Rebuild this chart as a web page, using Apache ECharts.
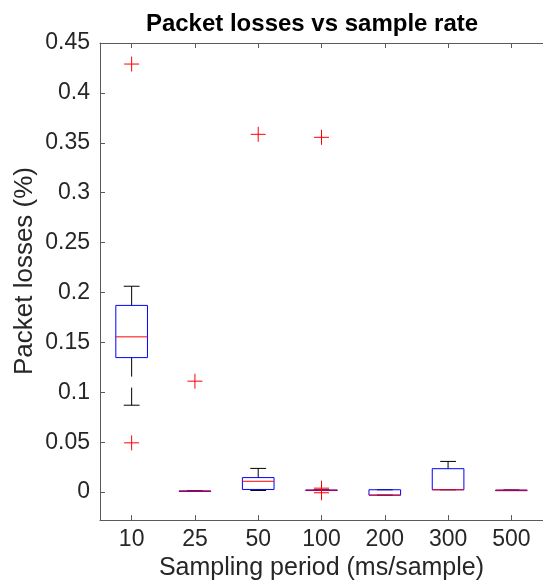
<!DOCTYPE html>
<html>
<head>
<meta charset="utf-8">
<script src="https://cdn.jsdelivr.net/npm/echarts@6/dist/echarts.min.js"></script>
<style>
html,body{margin:0;padding:0;background:#fff;}
#c{width:543px;height:586px;}
</style>
</head>
<body>
<div id="c"></div>
<script>
// ---- data ----
var categories = ['10', '25', '50', '100', '200', '300', '500'];
var whiskerLow  = [0.0871, 0.0010, 0.0017, 0.0020, -0.0030, 0.0024, 0.0020];
var q1          = [0.1348, 0.0010, 0.0027, 0.0020, -0.0030, 0.0024, 0.0020];
var medians     = [0.1556, 0.0010, 0.0109, 0.0020, -0.0030, 0.0024, 0.0020];
var q3          = [0.1871, 0.0012, 0.0146, 0.0021, 0.0024, 0.0235, 0.0020];
var whiskerHigh = [0.2063, 0.0012, 0.0238, 0.0021, 0.0024, 0.0308, 0.0020];
var outlierCat  = [0, 0, 1, 2, 3, 3, 3];
var outlierVal  = [0.4289, 0.0494, 0.1112, 0.3585, 0.3555, 0.0040, -0.0006];
var yTicks = [0, 0.05, 0.1, 0.15, 0.2, 0.25, 0.3, 0.35, 0.4, 0.45];
var yTickLabels = ['0', '0.05', '0.1', '0.15', '0.2', '0.25', '0.3', '0.35', '0.4', '0.45'];

var boxData = categories.map(function (c, i) {
  return [i, whiskerLow[i], q1[i], medians[i], q3[i], whiskerHigh[i]];
});
var outlierData = outlierVal.map(function (v, i) { return [outlierCat[i], v]; });

var axisColor = '#5a5a5a';
var textColor = '#262626';
var font = 'Liberation Sans, Arial, Helvetica, sans-serif';

function renderBox(params, api) {
  var x = api.value(0);
  var pWL = api.coord([x, api.value(1)]);
  var pQ1 = api.coord([x, api.value(2)]);
  var pMed = api.coord([x, api.value(3)]);
  var pQ3 = api.coord([x, api.value(4)]);
  var pWH = api.coord([x, api.value(5)]);
  var bw = api.size([1, 0])[0];
  var half = bw * 0.25;
  var cap = bw * 0.125;
  var cx = pMed[0];
  var children = [];
  var dash = [19, 11];
  children.push({type: 'line', shape: {x1: cx, y1: pQ3[1], x2: cx, y2: pWH[1]},
    style: {stroke: '#000', lineWidth: 1, lineDash: dash}});
  children.push({type: 'line', shape: {x1: cx, y1: pQ1[1], x2: cx, y2: pWL[1]},
    style: {stroke: '#000', lineWidth: 1, lineDash: dash}});
  children.push({type: 'line', shape: {x1: cx - cap, y1: pWH[1], x2: cx + cap, y2: pWH[1]},
    style: {stroke: '#000', lineWidth: 1}});
  children.push({type: 'line', shape: {x1: cx - cap, y1: pWL[1], x2: cx + cap, y2: pWL[1]},
    style: {stroke: '#000', lineWidth: 1}});
  children.push({type: 'rect', shape: {x: cx - half, y: pQ3[1], width: 2 * half, height: Math.max(pQ1[1] - pQ3[1], 0.5)},
    style: {stroke: '#0000ff', fill: null, lineWidth: 1}});
  children.push({type: 'line', shape: {x1: cx - half, y1: pMed[1], x2: cx + half, y2: pMed[1]},
    style: {stroke: '#ff0000', lineWidth: 1}});
  return {type: 'group', children: children};
}

function renderPlus(params, api) {
  var p = api.coord([api.value(0), api.value(1)]);
  var r = 7.5;
  return {type: 'group', children: [
    {type: 'line', shape: {x1: p[0] - r, y1: p[1], x2: p[0] + r, y2: p[1]},
      style: {stroke: '#ff0000', lineWidth: 1}},
    {type: 'line', shape: {x1: p[0], y1: p[1] - r, x2: p[0], y2: p[1] + r},
      style: {stroke: '#ff0000', lineWidth: 1}}
  ]};
}

var chart = echarts.init(document.getElementById('c'), null, {renderer: 'canvas'});
chart.setOption({
  animation: false,
  backgroundColor: '#ffffff',
  title: {
    text: 'Packet losses vs sample rate',
    left: 312, top: 12, padding: 0, textAlign: 'center',
    textStyle: {fontFamily: font, fontWeight: 'bold', fontSize: 24, color: '#000'}
  },
  grid: {left: 100, top: 43, width: 449, height: 482, containLabel: false},
  xAxis: [{
    type: 'category', data: categories, position: 'bottom',
    name: 'Sampling period (ms/sample)', nameLocation: 'middle', nameGap: 31,
    nameTextStyle: {fontFamily: font, fontSize: 25, color: textColor},
    axisLine: {show: true, onZero: false, lineStyle: {color: axisColor, width: 1}},
    axisTick: {show: true, inside: true, length: 5, alignWithLabel: true, lineStyle: {color: axisColor}},
    axisLabel: {fontFamily: font, fontSize: 23, color: textColor, margin: 8},
    splitLine: {show: false}
  }, {
    type: 'category', data: categories, position: 'top',
    axisLine: {show: true, onZero: false, lineStyle: {color: axisColor, width: 1}},
    axisTick: {show: true, inside: true, length: 5, alignWithLabel: true, lineStyle: {color: axisColor}},
    axisLabel: {show: false},
    splitLine: {show: false}
  }],
  yAxis: {
    type: 'value', min: -0.028, max: 0.45,
    axisLine: {show: true, onZero: false, lineStyle: {color: axisColor, width: 1}},
    axisTick: {show: true, inside: true, length: 5, customValues: yTicks, lineStyle: {color: axisColor}},
    axisLabel: {fontFamily: font, fontSize: 23, color: textColor, margin: 10, customValues: yTicks,
      formatter: function (v) {
        var i = yTicks.indexOf(v);
        return i >= 0 ? yTickLabels[i] : String(v);
      }},
    splitLine: {show: false}
  },
  graphic: [{
    type: 'text', x: 25, y: 271, rotation: Math.PI / 2, silent: true,
    style: {text: 'Packet losses (%)', fontFamily: font, fontSize: 26, fill: textColor,
      align: 'center', verticalAlign: 'middle'}
  }],
  series: [{
    type: 'custom', xAxisIndex: 0, yAxisIndex: 0, silent: true,
    renderItem: renderBox, data: boxData,
    encode: {x: 0, y: [1, 2, 3, 4, 5]}, z: 2
  }, {
    type: 'custom', xAxisIndex: 0, yAxisIndex: 0, silent: true,
    renderItem: renderPlus, data: outlierData,
    encode: {x: 0, y: 1}, z: 3
  }]
});
</script>
</body>
</html>
